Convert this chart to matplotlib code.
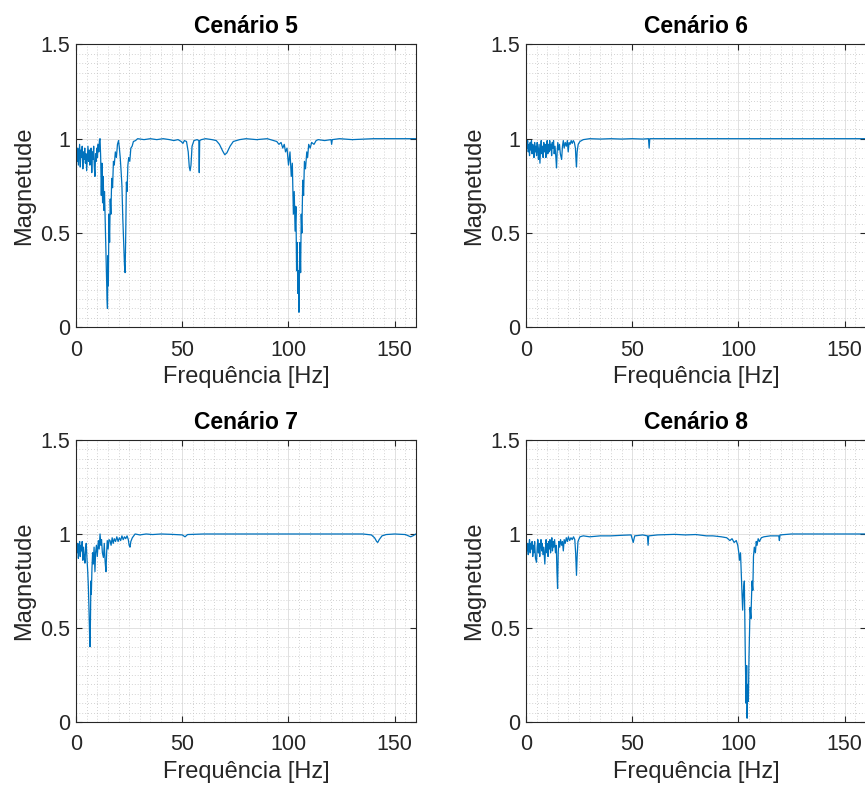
import matplotlib
matplotlib.use("Agg")
import matplotlib.pyplot as plt
from matplotlib.ticker import MultipleLocator

plt.rcParams['font.family'] = ['Liberation Sans', 'DejaVu Sans']

# (frequencia [Hz], magnitude)
cenario5 = [
    (0, 0.0), (0.15, 0.93), (0.5, 0.88), (0.8, 0.95), (1.1, 0.86), (1.4, 0.92), (1.7, 0.97),
    (2.0, 0.85), (2.3, 0.94), (2.6, 0.9), (2.9, 0.96), (3.2, 0.84), (3.5, 0.93), (3.8, 0.89),
    (4.1, 0.95), (4.4, 0.87), (4.7, 0.92), (5.0, 0.83), (5.3, 0.9), (5.6, 0.96), (5.9, 0.88),
    (6.2, 0.94), (6.5, 0.86), (6.8, 0.91), (7.1, 0.95), (7.4, 0.82), (7.7, 0.93), (8.0, 0.89),
    (8.3, 0.96), (8.6, 0.85), (8.9, 0.8), (9.2, 0.92), (9.5, 0.88), (9.8, 0.95), (10.1, 0.9),
    (10.4, 0.97), (10.7, 0.93), (11.0, 0.99), (11.3, 1.0), (11.6, 0.9), (11.9, 0.7), (12.2, 0.87),
    (12.5, 0.66), (12.8, 0.8), (13.1, 0.62), (13.4, 0.72), (13.7, 0.58), (14.0, 0.45), (14.3, 0.3),
    (14.6, 0.15), (14.8, 0.1), (15.0, 0.38), (15.2, 0.22), (15.5, 0.6), (15.8, 0.45), (16.1, 0.68),
    (16.4, 0.6), (16.8, 0.79), (17.2, 0.74), (17.6, 0.88), (18.0, 0.86), (18.5, 0.93), (19.0, 0.9),
    (19.5, 0.97), (20.0, 0.99), (20.4, 0.95), (20.8, 0.9), (21.2, 0.83), (21.6, 0.75), (22.0, 0.58),
    (22.4, 0.45), (22.8, 0.33), (23.1, 0.29), (23.4, 0.5), (23.7, 0.77), (24.0, 0.72), (24.4, 0.86),
    (24.8, 0.9), (25.3, 0.88), (25.8, 0.95), (26.4, 0.96), (27.0, 0.985), (28, 0.99), (29, 1.0),
    (32, 0.995), (35, 1.0), (38, 0.995), (41, 1.0), (44, 0.995), (46, 0.99), (48, 0.995),
    (49.5, 0.985), (50.3, 0.975), (51, 0.99), (52, 0.985), (52.8, 0.93), (53.3, 0.85), (53.7, 0.83),
    (54.1, 0.86), (54.6, 0.96), (55.5, 0.99), (57, 0.995), (57.8, 0.99), (58.0, 0.82), (58.2, 0.99),
    (59, 0.995), (61, 1.0), (64, 0.995), (66, 0.99), (67.5, 0.97), (69, 0.935), (70, 0.915),
    (71, 0.925), (72.5, 0.96), (74, 0.985), (77, 0.995), (80, 1.0), (85, 0.995), (90, 1.0),
    (93, 0.99), (94.5, 0.985), (95.5, 0.97), (96.5, 0.98), (97.3, 0.95), (98.0, 0.97),
    (98.6, 0.93), (99.3, 0.95), (100, 0.86), (100.7, 0.93), (101.3, 0.8), (101.8, 0.87),
    (102.3, 0.6), (102.7, 0.72), (103.1, 0.51), (103.5, 0.64), (103.8, 0.3), (104.1, 0.45),
    (104.4, 0.18), (104.7, 0.3), (104.9, 0.08), (105.1, 0.25), (105.4, 0.45), (105.7, 0.29),
    (106.0, 0.6), (106.3, 0.5), (106.7, 0.78), (107.1, 0.7), (107.5, 0.88), (108, 0.84),
    (108.6, 0.93), (109.0, 0.9), (109.5, 0.97), (110.2, 0.95), (110.9, 0.98), (112, 0.97),
    (113, 0.99), (114, 0.995), (117, 0.99), (120, 0.995), (120.3, 0.97), (120.6, 0.995),
    (124, 1.0), (130, 0.995), (140, 1.0), (150, 1.0), (160, 1.0),
]

cenario6 = [
    (0, 0.65), (0.15, 0.98), (0.5, 0.95), (0.8, 0.99), (1.1, 0.93), (1.4, 0.97), (1.7, 0.91),
    (2.0, 0.98), (2.3, 0.94), (2.6, 0.99), (2.9, 0.92), (3.2, 0.97), (3.5, 0.95), (3.8, 0.9),
    (4.1, 0.98), (4.4, 0.93), (4.7, 0.96), (5.0, 0.91), (5.3, 0.98), (5.6, 0.94), (5.9, 0.89),
    (6.2, 0.97), (6.6, 0.87), (6.9, 0.95), (7.2, 0.99), (7.5, 0.92), (7.8, 0.96), (8.1, 0.9),
    (8.4, 0.98), (8.7, 0.93), (9.0, 0.97), (9.4, 0.9), (9.7, 0.95), (10.0, 0.99), (10.3, 0.92),
    (10.6, 0.97), (10.9, 0.93), (11.2, 0.99), (11.5, 0.94), (11.8, 0.97), (12.1, 0.91),
    (12.4, 0.98), (12.7, 0.95), (13.0, 0.99), (13.3, 0.92), (13.7, 0.96), (14.1, 0.9),
    (14.4, 0.845), (14.7, 0.93), (15.0, 0.98), (15.4, 0.94), (15.8, 0.97), (16.2, 0.92),
    (16.8, 0.89), (17.2, 0.96), (17.6, 0.99), (18.0, 0.95), (18.5, 0.98), (19.0, 0.96),
    (19.5, 0.99), (19.9, 0.93), (20.3, 0.98), (20.8, 0.97), (21.3, 0.99), (21.8, 0.975),
    (22.3, 0.99), (22.8, 0.98), (23.3, 0.95), (23.6, 0.88), (23.8, 0.85), (24.1, 0.93),
    (24.6, 0.97), (25.4, 0.985), (27, 0.995), (30, 1.0), (35, 0.998), (40, 1.0), (45, 0.998),
    (50, 1.0), (55, 0.998), (57.7, 1.0), (58, 0.95), (58.3, 1.0), (65, 1.0), (80, 1.0),
    (100, 1.0), (120, 1.0), (140, 1.0), (160, 1.0),
]

cenario7 = [
    (0, 0.77), (0.15, 0.96), (0.5, 0.9), (0.8, 0.95), (1.1, 0.87), (1.4, 0.93), (1.7, 0.96),
    (2.0, 0.88), (2.3, 0.94), (2.6, 0.91), (2.9, 0.96), (3.2, 0.86), (3.5, 0.93), (3.8, 0.89),
    (4.2, 0.845), (4.5, 0.92), (4.8, 0.95), (5.1, 0.88), (5.5, 0.8), (5.8, 0.72), (6.1, 0.6),
    (6.4, 0.45), (6.6, 0.40), (6.8, 0.55), (7.0, 0.75), (7.2, 0.68), (7.5, 0.82), (7.8, 0.9),
    (8.1, 0.84), (8.5, 0.93), (8.9, 0.8), (9.2, 0.9), (9.6, 0.94), (10.0, 0.88), (10.5, 0.965),
    (10.9, 0.92), (11.3, 1.0), (11.7, 0.94), (12.0, 0.97), (12.4, 0.9), (12.9, 0.875),
    (13.3, 0.95), (13.7, 0.85), (14.1, 0.80), (14.4, 0.9), (14.7, 0.965), (15.1, 0.92),
    (15.5, 0.97), (16.0, 0.965), (16.5, 0.94), (17.0, 0.98), (17.5, 0.95), (18.0, 0.975),
    (18.6, 0.96), (19.2, 0.985), (19.8, 0.96), (20.4, 0.98), (21.0, 0.965), (21.6, 0.99),
    (22.2, 0.97), (22.8, 0.985), (23.4, 0.975), (24.0, 0.99), (24.6, 0.97), (25.0, 0.94),
    (25.4, 0.93), (25.8, 0.96), (26.5, 0.98), (27.8, 1.0), (30, 0.995), (33, 1.0), (36, 0.997),
    (40, 1.0), (45, 0.998), (50, 0.995), (51.3, 0.985), (52.5, 0.997), (60, 1.0), (70, 1.0),
    (80, 1.0), (100, 1.0), (120, 1.0), (135, 1.0), (139, 0.995), (140.5, 0.98), (141.5, 0.96),
    (142, 0.955), (142.7, 0.97), (144, 0.99), (146, 0.997), (150, 1.0), (155, 0.997),
    (157.5, 0.985), (158.5, 0.99), (160, 1.0),
]

cenario8 = [
    (0, 0.76), (0.15, 0.96), (0.5, 0.91), (0.8, 0.95), (1.1, 0.89), (1.4, 0.94), (1.7, 0.97),
    (2.0, 0.9), (2.3, 0.95), (2.6, 0.92), (2.9, 0.96), (3.2, 0.88), (3.5, 0.94), (3.8, 0.9),
    (4.1, 0.96), (4.5, 0.87), (5.0, 0.85), (5.3, 0.93), (5.6, 0.97), (5.9, 0.9), (6.2, 0.95),
    (6.5, 0.88), (6.8, 0.94), (7.1, 0.97), (7.4, 0.91), (7.7, 0.95), (8.0, 0.89), (8.4, 0.93),
    (8.9, 0.84), (9.2, 0.92), (9.5, 0.97), (9.8, 0.9), (10.1, 0.95), (10.4, 0.88), (10.7, 0.96),
    (11.0, 0.92), (11.3, 0.97), (11.6, 0.9), (11.9, 0.95), (12.2, 0.98), (12.5, 0.91),
    (12.8, 0.96), (13.1, 0.93), (13.5, 0.97), (13.9, 0.9), (14.3, 0.94), (14.6, 0.8),
    (14.9, 0.71), (15.2, 0.9), (15.5, 0.96), (15.9, 0.93), (16.3, 0.97), (16.8, 0.94),
    (17.2, 0.96), (17.6, 0.91), (18.0, 0.97), (18.5, 0.95), (19.0, 0.98), (19.5, 0.96),
    (20.0, 0.985), (20.6, 0.965), (21.2, 0.98), (21.8, 0.97), (22.4, 0.985), (23.0, 0.97),
    (23.4, 0.9), (23.8, 0.78), (24.1, 0.88), (24.5, 0.96), (25.4, 0.985), (27, 0.99),
    (30, 0.985), (35, 0.99), (40, 0.99), (45, 0.993), (49.5, 0.995), (50.5, 0.955),
    (51.2, 0.99), (55, 0.995), (57.2, 0.99), (57.5, 0.94), (57.8, 0.99), (62, 0.995),
    (70, 0.998), (75, 0.995), (80, 0.997), (85, 0.99), (88, 0.99), (92, 0.985), (94.5, 0.98),
    (96, 0.965), (97, 0.975), (98, 0.955), (99, 0.965), (99.7, 0.94), (100.2, 0.9),
    (100.5, 0.86), (101, 0.9), (101.5, 0.75), (102, 0.595), (102.4, 0.7), (102.8, 0.75),
    (103.2, 0.4), (103.6, 0.10), (103.9, 0.3), (104.1, 0.02), (104.4, 0.2), (104.7, 0.11),
    (105.0, 0.35), (105.5, 0.61), (105.9, 0.55), (106.4, 0.75), (106.8, 0.7), (107.1, 0.88),
    (107.5, 0.93), (108, 0.9), (108.4, 0.96), (108.8, 0.94), (109.3, 0.975), (109.9, 0.96),
    (110.8, 0.98), (112, 0.985), (115, 0.99), (119, 0.99), (119.3, 0.965), (119.6, 0.995),
    (125, 1.0), (140, 1.0), (160, 1.0),
]

titulos = ["Cenário 5", "Cenário 6", "Cenário 7", "Cenário 8"]
dados = [cenario5, cenario6, cenario7, cenario8]

# posicoes dos eixos (como no subplot do MATLAB)
posicoes = [
    [0.0879, 0.583, 0.393, 0.3605],
    [0.608, 0.583, 0.393, 0.3605],
    [0.0879, 0.0803, 0.393, 0.3592],
    [0.608, 0.0803, 0.393, 0.3592],
]

cor_eixo = '#262626'
fig = plt.figure(figsize=(8.65, 7.85), dpi=100)

for titulo, serie, pos in zip(titulos, dados, posicoes):
    ax = fig.add_axes(pos)
    freq, mag = zip(*serie)
    ax.plot(freq, mag, color='#0072BD', linewidth=0.9)
    ax.set_xlim(0, 160)
    ax.set_ylim(0, 1.5)
    ax.set_xticks([0, 50, 100, 150])
    ax.set_yticks([0, 0.5, 1, 1.5])
    ax.set_yticklabels(['0', '0.5', '1', '1.5'])
    ax.xaxis.set_minor_locator(MultipleLocator(5))
    ax.yaxis.set_minor_locator(MultipleLocator(0.05))
    ax.grid(which='major', color='#dcdcdc', linewidth=0.6, linestyle='-')
    ax.grid(which='minor', color='#c4c4c4', linewidth=0.6, linestyle=(0, (1, 2.5)))
    ax.set_axisbelow(True)
    ax.tick_params(which='major', direction='in', length=4, width=0.8,
                   colors=cor_eixo, labelsize=15.5, top=True, right=True)
    ax.tick_params(axis='x', which='major', pad=9)
    ax.tick_params(axis='y', which='major', pad=4)
    ax.tick_params(which='minor', length=0, top=True, right=True)
    for s in ax.spines.values():
        s.set_color(cor_eixo)
        s.set_linewidth(0.8)
    ax.set_title(titulo, fontsize=16.5, fontweight='bold', color='black', pad=8)
    ax.set_xlabel('Frequência [Hz]', fontsize=17, color=cor_eixo, labelpad=4)
    ax.set_ylabel('Magnetude', fontsize=17, color=cor_eixo, labelpad=4)

fig.savefig('out.png', dpi=100)
